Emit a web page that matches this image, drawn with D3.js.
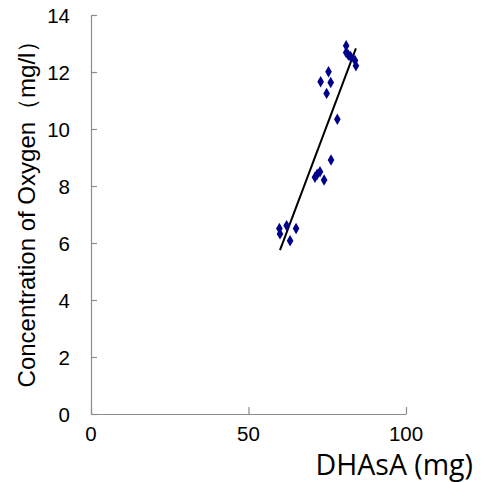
<!DOCTYPE html>
<html>
<head>
<meta charset="utf-8">
<script src="https://cdn.jsdelivr.net/npm/d3@7"></script>
<style>
body{margin:0;background:#fff;}
svg{display:block;}
</style>
</head>
<body>
<svg id="chart" width="485" height="482"></svg>
<script>
// Data
const dhasa  = [81.0, 81.0, 81.7, 82.4, 83.8, 84.1, 75.4, 72.9, 76.1, 74.8, 78.2, 76.2, 72.7, 71.8, 71.1, 74.0, 59.8, 62.1, 65.1, 60.0, 63.2];
const oxygen = [12.92, 12.68, 12.60, 12.54, 12.40, 12.22, 12.01, 11.66, 11.63, 11.25, 10.34, 8.91, 8.50, 8.41, 8.31, 8.21, 6.51, 6.61, 6.51, 6.32, 6.08];
const trendX = [60.0, 84.1];
const trendY = [5.75, 12.83];
const xTicks = [0, 50, 100];
const yTicks = [0, 2, 4, 6, 8, 10, 12, 14];

const svg = d3.select("#chart");
const x = d3.scaleLinear().domain([0, 100]).range([91, 406]);
const y = d3.scaleLinear().domain([0, 14]).range([414, 15]);

const axisColor = "#8c8c8c";

// X axis (ticks pointing up)
const gx = svg.append("g").attr("transform", `translate(0,${y(0)})`)
  .call(d3.axisTop(x).tickValues(xTicks).tickSize(7).tickSizeOuter(0).tickFormat(""));
gx.selectAll("path,line").attr("stroke", axisColor).attr("stroke-width", 1.2);
svg.append("g").selectAll("text").data(xTicks).join("text")
  .attr("x", d => x(d)).attr("y", 441)
  .attr("text-anchor", "middle")
  .attr("font-family", "Liberation Sans, Arial, sans-serif")
  .attr("font-size", 20.5).attr("fill", "#000")
  .text(d => d);

// Y axis (ticks pointing right)
const gy = svg.append("g").attr("transform", `translate(${x(0)},0)`)
  .call(d3.axisRight(y).tickValues(yTicks).tickSize(6).tickSizeOuter(0).tickFormat(""));
gy.selectAll("path,line").attr("stroke", axisColor).attr("stroke-width", 1.2);
svg.append("g").selectAll("text").data(yTicks).join("text")
  .attr("x", 70).attr("y", d => y(d) + 7.5)
  .attr("text-anchor", "end")
  .attr("font-family", "Liberation Sans, Arial, sans-serif")
  .attr("font-size", 20.5).attr("fill", "#000")
  .text(d => d);

// Trend line
svg.append("line")
  .attr("x1", x(trendX[0])).attr("y1", y(trendY[0]))
  .attr("x2", x(trendX[1])).attr("y2", y(trendY[1]))
  .attr("stroke", "#000").attr("stroke-width", 2);

// Points (diamonds)
const pts = dhasa.map((d, i) => [d, oxygen[i]]);
const sym = d3.symbol().type(d3.symbolDiamond).size(38);
svg.append("g").selectAll("path").data(pts).join("path")
  .attr("d", sym)
  .attr("transform", d => `translate(${x(d[0])},${y(d[1])})`)
  .attr("fill", "#00008b");

// Axis titles
svg.append("text")
  .attr("transform", `translate(35,208) rotate(-90)`)
  .attr("text-anchor", "middle")
  .attr("font-family", "Liberation Sans, Arial, sans-serif")
  .attr("font-size", 24).attr("fill", "#000")
  .text("Concentration of Oxygen（mg/l）");

svg.append("text")
  .attr("x", 473).attr("y", 475)
  .attr("text-anchor", "end")
  .attr("font-family", "Open Sans, sans-serif")
  .attr("font-size", 28.5).attr("fill", "#000")
  .text("DHAsA (mg)");
</script>
</body>
</html>
